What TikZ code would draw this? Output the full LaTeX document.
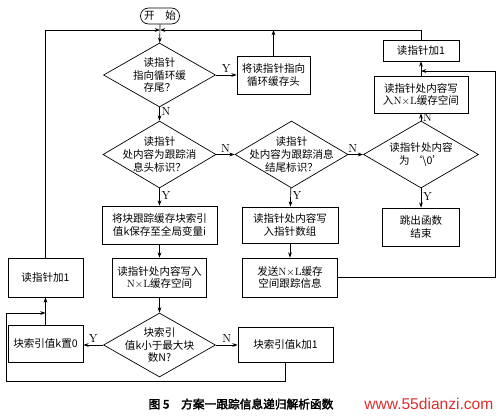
\documentclass[tikz,border=0pt]{standalone}
\usepackage{fontspec}
\newfontfamily\cjk[AutoFakeBold=2.5]{Noto Sans CJK SC}
\newfontfamily\web{Liberation Sans}
\usepackage{xcolor}
\usepackage{tikz}
\usetikzlibrary{arrows.meta,shapes.geometric}
\definecolor{wmred}{RGB}{222,45,45}
\newcommand\NxL{{\rmfamily N$\times$L}}

\begin{document}
\begin{tikzpicture}[x=0.3mm,y=-0.3mm,>={Stealth[length=4.5pt,width=3.2pt]},line width=0.6pt,
every node/.style={font=\cjk\fontsize{9}{11}\selectfont,align=center},
box/.style 2 args={draw,rectangle,minimum width=#1,minimum height=#2,inner sep=1pt},
dec/.style 2 args={draw,diamond,minimum width=#1,minimum height=#2,inner sep=0pt},
yn/.style={font=\rmfamily\fontsize{10}{10}\selectfont,inner sep=1.5pt}]
\useasboundingbox (0,0) rectangle (500,415);
% start and the three decisions on top
\node[draw,rounded corners=2.4mm,minimum width=11.7mm,minimum height=4.8mm,inner sep=0pt](start) at (160,16){开\hspace{1em}始};
\node[dec={33.6mm}{19.2mm},label={[align=center]center:读指针\\指向循环缓\\存尾？}](d1) at (159.5,75){};
\node[box={21.9mm}{11.4mm}](bhead) at (273.5,75){将读指针指向\\循环缓存头};
\node[dec={33.9mm}{20.1mm},label={[align=center]center:读指针\\处内容为跟踪消\\息头标识？}](d2) at (159.5,154.5){};
\node[dec={33.9mm}{20.1mm},label={[align=center]center:读指针\\处内容为跟踪消息\\结尾标识？}](d3) at (291.5,154.5){};
\node[dec={34.5mm}{20.1mm},label={[align=center]center:读指针处内容\\为\ ‘\textbackslash 0’}](d4) at (421,154.5){};
% right column
\node[box={28.2mm}{11.1mm}](bwrite2) at (421,94.5){读指针处内容写\\入\NxL 缓存空间};
\node[box={22.8mm}{6.3mm}](binc2) at (421,50.5){读指针加1};
\node[box={23.1mm}{11.4mm}](bexit) at (421,227){跳出函数\\结束};
% middle rows
\node[box={34.5mm}{11.4mm}](bsave) at (159.5,225){将块跟踪缓存块索引\\值k保存至全局变量i};
\node[box={28.8mm}{10.8mm}](bwptr) at (290,225){读指针处内容写\\入指针数组};
\node[box={28.2mm}{11.7mm}](bwrite1) at (159.5,277.5){读指针处内容写入\\\NxL 缓存空间};
\node[box={28.5mm}{11.7mm}](bsend) at (290,277.5){发送\NxL 缓存\\空间跟踪信息};
\node[box={22.5mm}{11.7mm}](binc) at (45.5,277.5){读指针加1};
% bottom row
\node[dec={33.6mm}{19.2mm},label={[align=center]center:块索引\\值k小于最大块\\数N?}](d5) at (159.5,345){};
\node[box={22.5mm}{11.1mm}](bzero) at (45.5,343.5){块索引值k置0};
\node[box={28.5mm}{10.5mm}](bkinc) at (285.5,344.5){块索引值k加1};
\coordinate(m) at (160,30);
\coordinate(rc) at (495,71);
\coordinate(lc) at (6,381);
\coordinate(lj) at (45.5,313);
% connectors
\draw[->](start)--(d1);
\draw[->](binc.north)|-(m);
\draw[->](binc2.north)|-(m);
\draw[->](bhead.north)--(bhead.north|-m);
\draw[->](d1.east)--node[yn,above]{Y}(d1.east-|bhead.west);
\draw[->](d1)--node[yn,right,pos=0.3]{N}(d2);
\draw[->](d2)--node[yn,above]{N}(d3);
\draw[->](d3)--node[yn,above,pos=0.3]{N}(d4);
\draw[->](d2)--node[yn,right,pos=0.4]{Y}(bsave);
\draw[->](d3)--node[yn,right,pos=0.4]{Y}(bwptr);
\draw[->](d4)--node[yn,right,pos=0.4]{Y}(bexit);
\draw[->](d4)--node[yn,right]{N}(bwrite2);
\draw[->](bwrite2)--(binc2);
\draw[->](bsend.east)-|(rc)--(rc-|bwrite2.north);
\draw[->](bsave)--(bwrite1);
\draw[->](bwptr)--(bsend);
\draw[->](bwrite1)--(d5);
\draw[->](d5.west)--node[yn,above]{Y}(d5.west-|bzero.east);
\draw[->](d5.east)--node[yn,above]{N}(d5.east-|bkinc.west);
\draw[->](bzero)--(binc);
\draw[->](bkinc.south)|-(lc)|-(lj);
% caption
\node[font=\cjk\bfseries\fontsize{10}{10}\selectfont](cap) at (241,404){图 5\quad 方案一跟踪信息递归解析函数};
\node[font=\web\fontsize{13.3}{13}\selectfont,text=wmred,anchor=west,inner sep=0pt](wm) at (364,404){www.55dianzi.com};
\end{tikzpicture}
\end{document}
